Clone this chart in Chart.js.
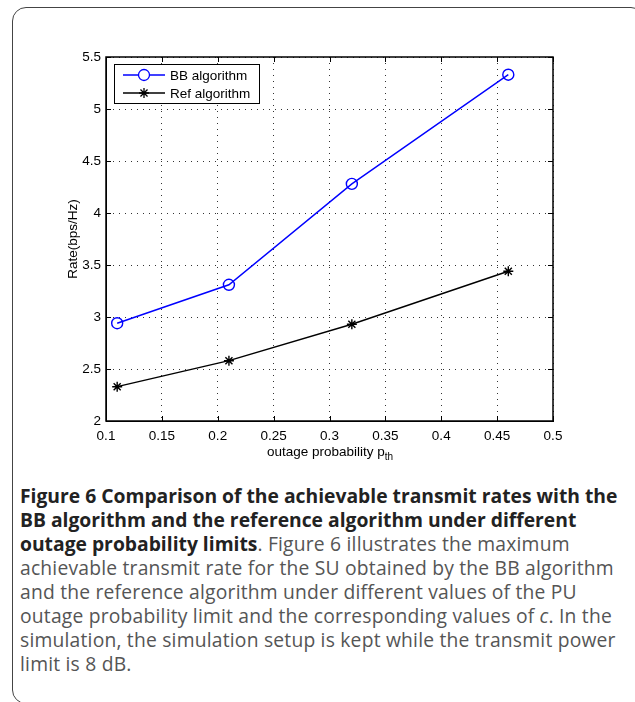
<!DOCTYPE html>
<html>
<head>
<meta charset="utf-8">
<script src="https://cdn.jsdelivr.net/npm/chart.js@4.4.1/dist/chart.umd.min.js"></script>
<style>
    body {
        margin: 0;
        width: 635px;
        height: 702px;
        background: #fff;
        overflow: hidden;
        position: relative;
        font-family: "Liberation Sans", Arial, sans-serif;
    }
    .frame {
        position: absolute;
        left: 12px;
        top: 7px;
        width: 633px;
        height: 697px;
        border: 1.5px solid #444;
        border-radius: 14px;
        box-sizing: border-box;
    }
    .plot {
        position: absolute;
        left: 0;
        top: 0;
        width: 635px;
        height: 470px;
    }
    .xtitle {
        position: absolute;
        left: 0;
        width: 660px;
        top: 444px;
        text-align: center;
        font-size: 13.5px;
        color: #000;
    }
    .xtitle sub {
        font-size: 10px;
        vertical-align: -4px;
    }
    .caption {
        position: absolute;
        left: 20px;
        top: 484px;
        width: 615px;
        font-family: "Open Sans", Lato, sans-serif;
        font-size: 19.3px;
        line-height: 24px;
        letter-spacing: 0.2px;
        color: #555;
        white-space: nowrap;
    }
    .caption b {
        color: #222;
        letter-spacing: 0;
    }
</style>
</head>
<body>
<div class="frame"></div>
<div class="plot"><canvas id="rateChart"></canvas></div>
<div class="xtitle">outage probability p<sub>th</sub></div>
<div class="caption">
<b>Figure 6 Comparison of the achievable transmit rates with the</b><br>
<b>BB algorithm and the reference algorithm under different</b><br>
<b>outage probability limits</b>. Figure 6 illustrates the maximum<br>
achievable transmit rate for the SU obtained by the BB algorithm<br>
and the reference algorithm under different values of the PU<br>
outage probability limit and the corresponding values of <i>c</i>. In the<br>
simulation, the simulation setup is kept while the transmit power<br>
limit is 8 dB.
</div>

<script>

/*==================================================
DATA
==================================================*/

const outageProb = [0.11, 0.21, 0.32, 0.46];

const bbRate = [2.94, 3.31, 4.28, 5.33];

const refRate = [2.33, 2.58, 2.93, 3.44];

const seriesNames = ["BB algorithm", "Ref algorithm"];

const xTicks = [0.1, 0.15, 0.2, 0.25, 0.3, 0.35, 0.4, 0.45, 0.5];

const yTicks = [2, 2.5, 3, 3.5, 4, 4.5, 5, 5.5];

const FONT = "'Liberation Sans', Arial, sans-serif";

/*==================================================
PLUGINS
==================================================*/

// box round the plot + matlab style inward ticks
const boxPlugin = {

    id: "boxPlugin",

    afterDatasetsDraw(chart) {

        const ctx = chart.ctx;
        const a = chart.chartArea;
        const xs = chart.scales.x;
        const ys = chart.scales.y;

        ctx.save();
        ctx.strokeStyle = "#000";
        ctx.lineWidth = 1;

        ctx.beginPath();

        xTicks.forEach(v => {
            const px = Math.round(xs.getPixelForValue(v)) + 0.5;
            ctx.moveTo(px, a.bottom);
            ctx.lineTo(px, a.bottom - 5);
            ctx.moveTo(px, a.top);
            ctx.lineTo(px, a.top + 5);
        });

        yTicks.forEach(v => {
            const py = Math.round(ys.getPixelForValue(v)) + 0.5;
            ctx.moveTo(a.left, py);
            ctx.lineTo(a.left + 5, py);
            ctx.moveTo(a.right, py);
            ctx.lineTo(a.right - 5, py);
        });

        ctx.stroke();

        ctx.lineWidth = 1.5;
        ctx.strokeRect(a.left, a.top, a.right - a.left, a.bottom - a.top);

        ctx.restore();

    }

};

// legend with line + marker sample, drawn inside the plot
const insideLegend = {

    id: "insideLegend",

    afterDraw(chart) {

        const ctx = chart.ctx;
        const a = chart.chartArea;

        const x0 = a.left + 8;
        const y0 = a.top + 7;
        const w = 145;
        const h = 39;

        ctx.save();

        ctx.fillStyle = "#fff";
        ctx.fillRect(x0, y0, w, h);
        ctx.strokeStyle = "#000";
        ctx.lineWidth = 1;
        ctx.strokeRect(x0 + 0.5, y0 + 0.5, w, h);

        ctx.font = "13.5px " + FONT;
        ctx.textBaseline = "middle";

        chart.data.datasets.forEach((ds, i) => {

            const cy = y0 + 11 + i * 18;

            ctx.strokeStyle = ds.borderColor;
            ctx.lineWidth = 1.3;
            ctx.beginPath();
            ctx.moveTo(x0 + 9, cy);
            ctx.lineTo(x0 + 51, cy);
            ctx.stroke();

            Chart.helpers.drawPoint(ctx, {
                pointStyle: ds.pointStyle,
                radius: ds.pointRadius,
                borderWidth: ds.pointBorderWidth
            }, x0 + 30, cy);

            ctx.fillStyle = "#000";
            ctx.fillText(ds.label, x0 + 56, cy + 1);

        });

        ctx.restore();

    }

};

/*==================================================
CHART
==================================================*/

function createRateChart() {

    const ctx = document.getElementById("rateChart");

    new Chart(ctx, {

        type: "scatter",

        data: {

            datasets: [

                {
                    label: seriesNames[0],
                    data: outageProb.map((x, i) => ({ x: x, y: bbRate[i] })),
                    showLine: true,
                    borderColor: "#0000ff",
                    backgroundColor: "rgba(0,0,0,0)",
                    borderWidth: 1.4,
                    pointStyle: "circle",
                    pointRadius: 5.5,
                    pointBorderWidth: 1.4,
                    pointBorderColor: "#0000ff",
                    pointBackgroundColor: "rgba(0,0,0,0)"
                },

                {
                    label: seriesNames[1],
                    data: outageProb.map((x, i) => ({ x: x, y: refRate[i] })),
                    showLine: true,
                    borderColor: "#000000",
                    backgroundColor: "rgba(0,0,0,0)",
                    borderWidth: 1.4,
                    pointStyle: "star",
                    pointRadius: 5,
                    pointBorderWidth: 1.4,
                    pointBorderColor: "#000000"
                }

            ]

        },

        options: {

            responsive: true,

            maintainAspectRatio: false,

            animation: false,

            layout: {
                padding: { left: 65, right: 82, top: 57, bottom: 0 }
            },

            plugins: {
                legend: { display: false },
                tooltip: { enabled: false }
            },

            scales: {

                x: {
                    type: "linear",
                    min: 0.1,
                    max: 0.5,
                    afterBuildTicks: axis => {
                        axis.ticks = xTicks.map(v => ({ value: v }));
                    },
                    afterFit: axis => {
                        axis.height = 49;
                    },
                    grid: {
                        color: "#333",
                        drawTicks: false
                    },
                    border: {
                        display: true,
                        color: "#000",
                        dash: [1, 5]
                    },
                    ticks: {
                        padding: 7,
                        color: "#000",
                        font: { family: FONT, size: 13.5 },
                        callback: v => String(v)
                    }
                },

                y: {
                    min: 2,
                    max: 5.5,
                    afterBuildTicks: axis => {
                        axis.ticks = yTicks.map(v => ({ value: v }));
                    },
                    afterFit: axis => {
                        axis.width = 41;
                    },
                    grid: {
                        color: "#333",
                        drawTicks: false
                    },
                    border: {
                        display: true,
                        color: "#000",
                        dash: [1, 5]
                    },
                    title: {
                        display: true,
                        text: "Rate(bps/Hz)",
                        color: "#000",
                        font: { family: FONT, size: 13.5 },
                        padding: { top: 0, bottom: 0 }
                    },
                    ticks: {
                        padding: 5,
                        color: "#000",
                        font: { family: FONT, size: 13.5 },
                        callback: v => String(v)
                    }
                }

            }

        },

        plugins: [boxPlugin, insideLegend]

    });

}

createRateChart();

</script>
</body>
</html>
